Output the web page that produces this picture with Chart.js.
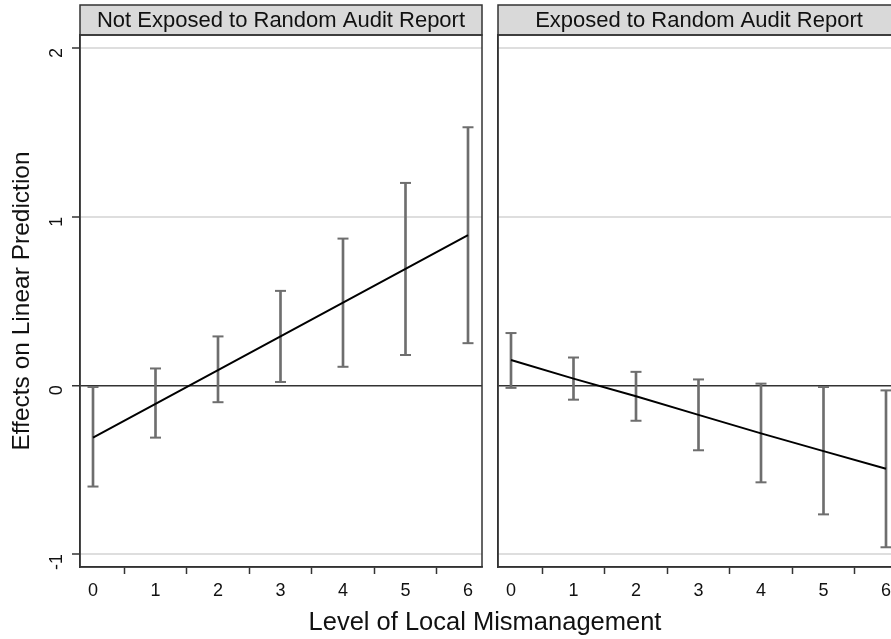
<!DOCTYPE html>
<html>
<head>
<meta charset="utf-8">
<script src="https://cdn.jsdelivr.net/npm/chart.js@4/dist/chart.umd.min.js"></script>
<style>
  html, body { margin: 0; padding: 0; background: #fff; }
  #page { position: relative; width: 891px; height: 639px; overflow: hidden; background: #fff; }
  #c1 { position: absolute; left: 0; top: 0; }
  #c2 { position: absolute; left: 490px; top: 0; }
  #xtitle { position: absolute; left: 0; width: 970px; top: 607px; text-align: center; line-height: 28px;
            font-family: "Liberation Sans", Arial, sans-serif; font-size: 25.5px; color: #111; }
</style>
</head>
<body>
<div id="page">
  <canvas id="c1" width="490" height="639"></canvas>
  <canvas id="c2" width="420" height="639"></canvas>
  <div id="xtitle">Level of Local Mismanagement</div>
</div>
<script>
// ---- data ----
const levels = [0, 1, 2, 3, 4, 5, 6];
const yTicks = [-1, 0, 1, 2];
const panelTitles = ["Not Exposed to Random Audit Report", "Exposed to Random Audit Report"];
const yTitle = "Effects on Linear Prediction";

const notExposedEst = [-0.31, -0.11, 0.09, 0.29, 0.49, 0.69, 0.89];
const notExposedLo  = [-0.60, -0.31, -0.10, 0.02, 0.11, 0.18, 0.25];
const notExposedHi  = [-0.01, 0.10, 0.29, 0.56, 0.87, 1.20, 1.53];

const exposedEst = [0.15, 0.04, -0.065, -0.175, -0.285, -0.39, -0.495];
const exposedLo  = [-0.015, -0.085, -0.21, -0.385, -0.575, -0.765, -0.96];
const exposedHi  = [0.31, 0.165, 0.08, 0.035, 0.01, -0.01, -0.03];

// ---- styling ----
const FONT = '"Liberation Sans", Arial, Helvetica, sans-serif';
const DARK = '#333333';
const BAR = '#6e6e6e';

const framePlugin = {
  id: 'frame',
  afterDraw(chart, args, opts) {
    const ctx = chart.ctx, a = chart.chartArea;
    ctx.save();
    ctx.fillStyle = '#d9d9d9';
    ctx.fillRect(a.left, 5, a.right - a.left, a.top - 5);
    ctx.strokeStyle = DARK;
    ctx.lineWidth = 1.5;
    ctx.strokeRect(a.left, 5, a.right - a.left, a.top - 5);
    ctx.strokeRect(a.left, a.top, a.right - a.left, a.bottom - a.top);
    ctx.fillStyle = '#111';
    ctx.font = '22px ' + FONT;
    ctx.textAlign = 'center';
    ctx.textBaseline = 'middle';
    ctx.fillText(opts.title, (a.left + a.right) / 2, 21);
    ctx.restore();
  }
};

function makeChart(canvasId, est, lo, hi, title, isLeft) {
  const pts = (arr) => levels.map((x, i) => ({ x: x, y: arr[i] }));
  const ranges = levels.map((x, i) => ({ x: x, y: [lo[i], hi[i]] }));
  const canvas = document.getElementById(canvasId);
  return new Chart(canvas, {
    type: 'bar',
    data: {
      datasets: [
        { type: 'line', data: pts(est), borderColor: '#000', borderWidth: 2, pointRadius: 0, fill: false, order: 0 },
        { type: 'bar', data: ranges, backgroundColor: BAR, barThickness: 2, borderWidth: 0, order: 2 },
        { type: 'line', data: pts(lo), showLine: false, pointStyle: 'line', pointRadius: 5.5, borderColor: BAR, borderWidth: 2, order: 1 },
        { type: 'line', data: pts(hi), showLine: false, pointStyle: 'line', pointRadius: 5.5, borderColor: BAR, borderWidth: 2, order: 1 }
      ]
    },
    options: {
      responsive: false,
      animation: false,
      events: [],
      layout: { padding: { top: 35, right: isLeft ? 8 : 10, bottom: 0, left: 0 } },
      plugins: {
        legend: { display: false },
        tooltip: { enabled: false },
        frame: { title: title }
      },
      scales: {
        x: {
          type: 'linear',
          min: -0.208, max: 6.224,
          offset: false,
          afterFit: (s) => { s.height = 72; },
          afterBuildTicks: (s) => { s.ticks = levels.map(v => ({ value: v })); },
          grid: { drawOnChartArea: false, drawTicks: true, tickLength: 7, tickColor: DARK, tickWidth: 1.5 },
          border: { display: true, color: DARK, width: 1.5 },
          ticks: {
            autoSkip: false, maxRotation: 0, minRotation: 0, padding: 6,
            color: '#111', font: { family: FONT, size: 18 }
          }
        },
        y: {
          type: 'linear',
          min: -1.077, max: 2.077,
          afterFit: (s) => { s.width = isLeft ? 80 : 8; },
          afterBuildTicks: (s) => { s.ticks = yTicks.map(v => ({ value: v })); },
          grid: {
            drawOnChartArea: true,
            drawTicks: isLeft,
            tickLength: 8,
            tickColor: DARK,
            tickWidth: 1.5,
            color: (c) => (c.tick && c.tick.value === 0) ? DARK : '#dedede',
            lineWidth: (c) => (c.tick && c.tick.value === 0) ? 1.5 : 2
          },
          border: { display: true, color: DARK, width: 1.5 },
          title: {
            display: isLeft, text: yTitle, color: '#111',
            font: { family: FONT, size: 24.5 }, padding: { top: 8, bottom: 6 }
          },
          ticks: {
            display: isLeft, minRotation: 90, maxRotation: 90, padding: 15,
            color: '#111', font: { family: FONT, size: 18 }
          }
        }
      }
    },
    plugins: [framePlugin]
  });
}

makeChart('c1', notExposedEst, notExposedLo, notExposedHi, panelTitles[0], true);
makeChart('c2', exposedEst, exposedLo, exposedHi, panelTitles[1], false);
</script>
</body>
</html>
